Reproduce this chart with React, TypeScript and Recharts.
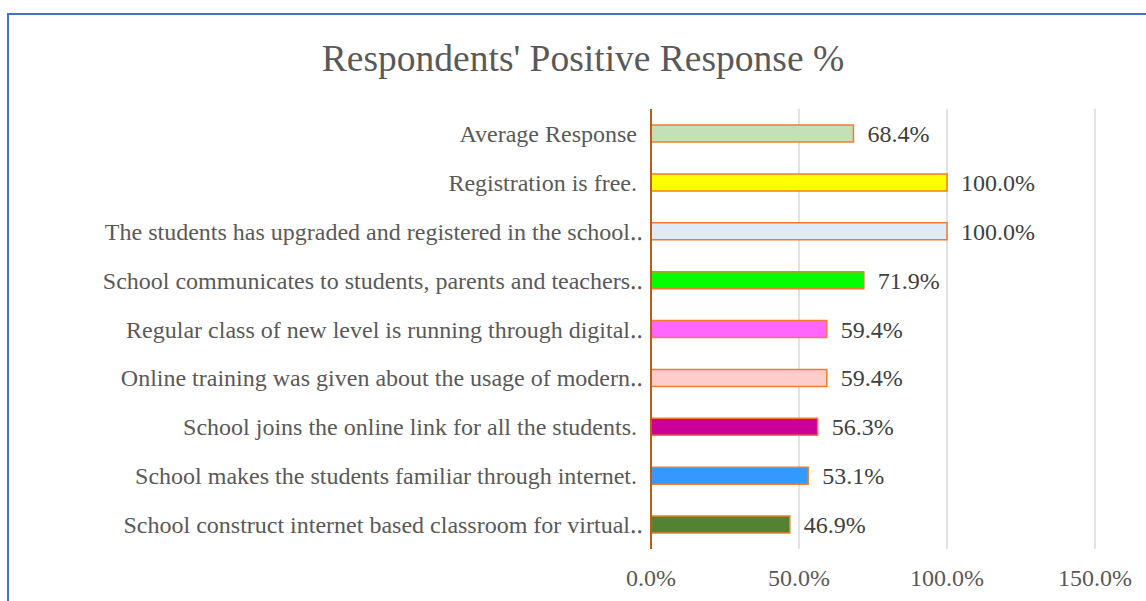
import { BarChart, Bar, XAxis, YAxis, CartesianGrid, Cell, LabelList } from "recharts";

// Survey statements, top to bottom as shown
const statements = [
  "Average Response\u00a0",
  "Registration is free.\u00a0",
  "The students has upgraded and registered in the school\u2025",
  "School communicates to students, parents and teachers\u2025",
  "Regular class of new level is running through digital\u2025",
  "Online training was given about the usage of modern\u2025",
  "School joins the online link for all the students.\u00a0",
  "School makes the students familiar through internet.\u00a0",
  "School construct internet based classroom for virtual\u2025",
];

const positivePct = [68.4, 100.0, 100.0, 71.9, 59.4, 59.4, 56.3, 53.1, 46.9];

const barColors = [
  "#C5E0B4",
  "#FFFF00",
  "#DEEBF7",
  "#00FF00",
  "#FF66FF",
  "#FFCCCC",
  "#CC0099",
  "#3399FF",
  "#548235",
];

const xTicks = [0, 50, 100, 150];

const data = statements.map((name, i) => ({ name, value: positivePct[i] }));

const FONT = "'Liberation Serif', 'Times New Roman', serif";
const pct = (v: number) => `${Number(v).toFixed(1)}%`;

export default function App() {
  return (
    <div
      style={{
        position: "fixed",
        left: 0,
        top: 0,
        width: 1146,
        height: 601,
        overflow: "hidden",
        background: "#fff",
        fontFamily: FONT,
      }}
    >
      <div
        style={{
          position: "absolute",
          left: 7,
          top: 13,
          width: 1200,
          height: 700,
          border: "2px solid #4472C4",
          boxSizing: "border-box",
        }}
      />
      <div
        style={{
          position: "absolute",
          left: 0,
          width: 1166,
          top: 37,
          textAlign: "center",
          fontSize: 37.5,
          color: "#595959",
          lineHeight: "44px",
        }}
      >
        Respondents' Positive Response %
      </div>
      <div style={{ position: "absolute", left: 0, top: 0 }}>
        <BarChart
          width={1146}
          height={601}
          data={data}
          layout="vertical"
          margin={{ top: 109, right: 51, bottom: 22, left: 0 }}
          barSize={17}
        >
          <CartesianGrid horizontal={false} stroke="#D9D9D9" strokeWidth={1.5} />
          <XAxis
            type="number"
            domain={[0, 150]}
            ticks={xTicks}
            tickFormatter={pct}
            axisLine={false}
            tickLine={false}
            tickMargin={14}
            height={30}
            tick={{ fill: "#595959", fontSize: 24, fontFamily: FONT }}
          />
          <YAxis
            type="category"
            dataKey="name"
            width={651}
            interval={0}
            tickLine={false}
            axisLine={{ stroke: "#C55A11", strokeWidth: 2 }}
            tick={{ fill: "#595959", fontSize: 24, fontFamily: FONT }}
          />
          <Bar dataKey="value" stroke="#ED7D31" strokeWidth={1.5} isAnimationActive={false}>
            {data.map((d, i) => (
              <Cell key={d.name} fill={barColors[i]} />
            ))}
            <LabelList
              dataKey="value"
              position="right"
              offset={14}
              formatter={pct}
              style={{ fill: "#404040", fontSize: 24, fontFamily: FONT }}
            />
          </Bar>
        </BarChart>
      </div>
    </div>
  );
}
